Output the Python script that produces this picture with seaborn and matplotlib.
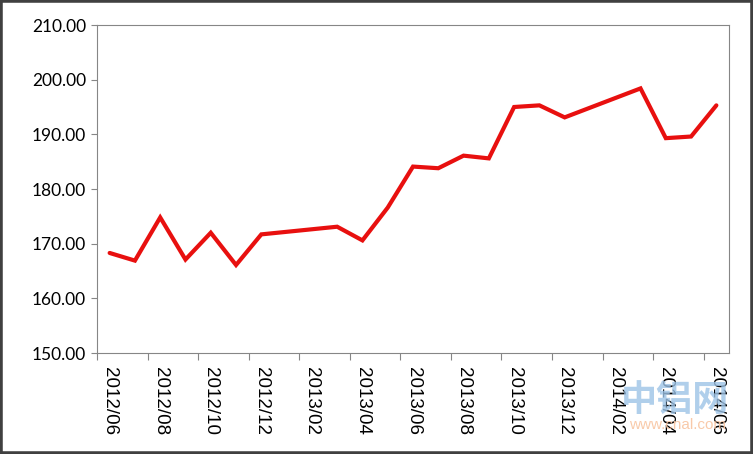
import numpy as np
import pandas as pd
import matplotlib
matplotlib.use('Agg')
import matplotlib.pyplot as plt
from matplotlib.patches import Rectangle
import seaborn as sns

# monthly series, 2012/06 .. 2014/06 (blank months left as NaN, line joins across them)
months = ['2012/06', '2012/07', '2012/08', '2012/09', '2012/10', '2012/11', '2012/12',
          '2013/01', '2013/02', '2013/03', '2013/04', '2013/05', '2013/06', '2013/07',
          '2013/08', '2013/09', '2013/10', '2013/11', '2013/12', '2014/01', '2014/02',
          '2014/03', '2014/04', '2014/05', '2014/06']
prices = [168.3, 166.9, 174.8, 167.1, 172.0, 166.1, 171.7,
          np.nan, np.nan, 173.1, 170.6, 176.6, 184.1, 183.8,
          186.1, 185.6, 195.0, 195.3, 193.1, np.nan, np.nan,
          198.4, 189.3, 189.6, 195.3]
y_ticks = [150, 160, 170, 180, 190, 200, 210]

df = pd.DataFrame({'month': months, 'price': prices})
df['pos'] = np.arange(len(df))

sns.set_theme(style='white')
plt.rcParams['font.family'] = ['Lato', 'DejaVu Sans']

fig = plt.figure(figsize=(7.53, 4.54), dpi=100)
ax = fig.add_axes([97 / 753, 1 - 353 / 454, (729 - 97) / 753, (353 - 25) / 454])

sns.lineplot(data=df.dropna(), x='pos', y='price', ax=ax, color='#e8100f',
             linewidth=3.0, solid_joinstyle='miter')

ax.set_xlim(-0.5, len(months) - 0.5)
ax.set_ylim(150, 210)
ax.set_xlabel('')
ax.set_ylabel('')

# y axis
ax.set_yticks(y_ticks)
ax.set_yticklabels([f'{v:.2f}' for v in y_ticks], fontsize=12.5, color='black')
ax.tick_params(axis='y', which='major', left=True, length=4, width=0.8,
               color='#868686', pad=4)

# x axis: tick marks on category boundaries, labels every second month
ax.set_xticks(np.arange(-0.5, len(months) - 1, 2))
ax.set_xticklabels([])
ax.set_xticks(df['pos'][::2], minor=True)
ax.set_xticklabels(df['month'][::2], minor=True, rotation=-90, fontsize=13.5,
                   color='black', va='top', ha='center')
for t in ax.get_xticklabels(minor=True):
    t.set_fontfamily(['Liberation Sans'])
ax.tick_params(axis='x', which='major', bottom=True, length=5, width=0.8, color='#868686')
ax.tick_params(axis='x', which='minor', bottom=True, length=0, pad=10)

for s in ax.spines.values():
    s.set_visible(True)
    s.set_color('#868686')
    s.set_linewidth(0.8)

# watermark
fig.text(675 / 753, 1 - 400 / 454, '中铝网', fontsize=26, color='#9dc3e6', alpha=0.8,
         family=['Noto Sans CJK SC'], fontweight='bold', ha='center', va='center')
fig.text(678 / 753, 1 - 425 / 454, 'www.cnal.com', fontsize=11, color='#f8c4a0', alpha=0.9,
         family=['Liberation Sans'], ha='center', va='center')

# chart border
fig.patches.append(Rectangle((0, 0), 1, 1, transform=fig.transFigure, fill=False,
                             linewidth=4, edgecolor='#404040'))

fig.savefig('out.png', dpi=100, facecolor='white')
